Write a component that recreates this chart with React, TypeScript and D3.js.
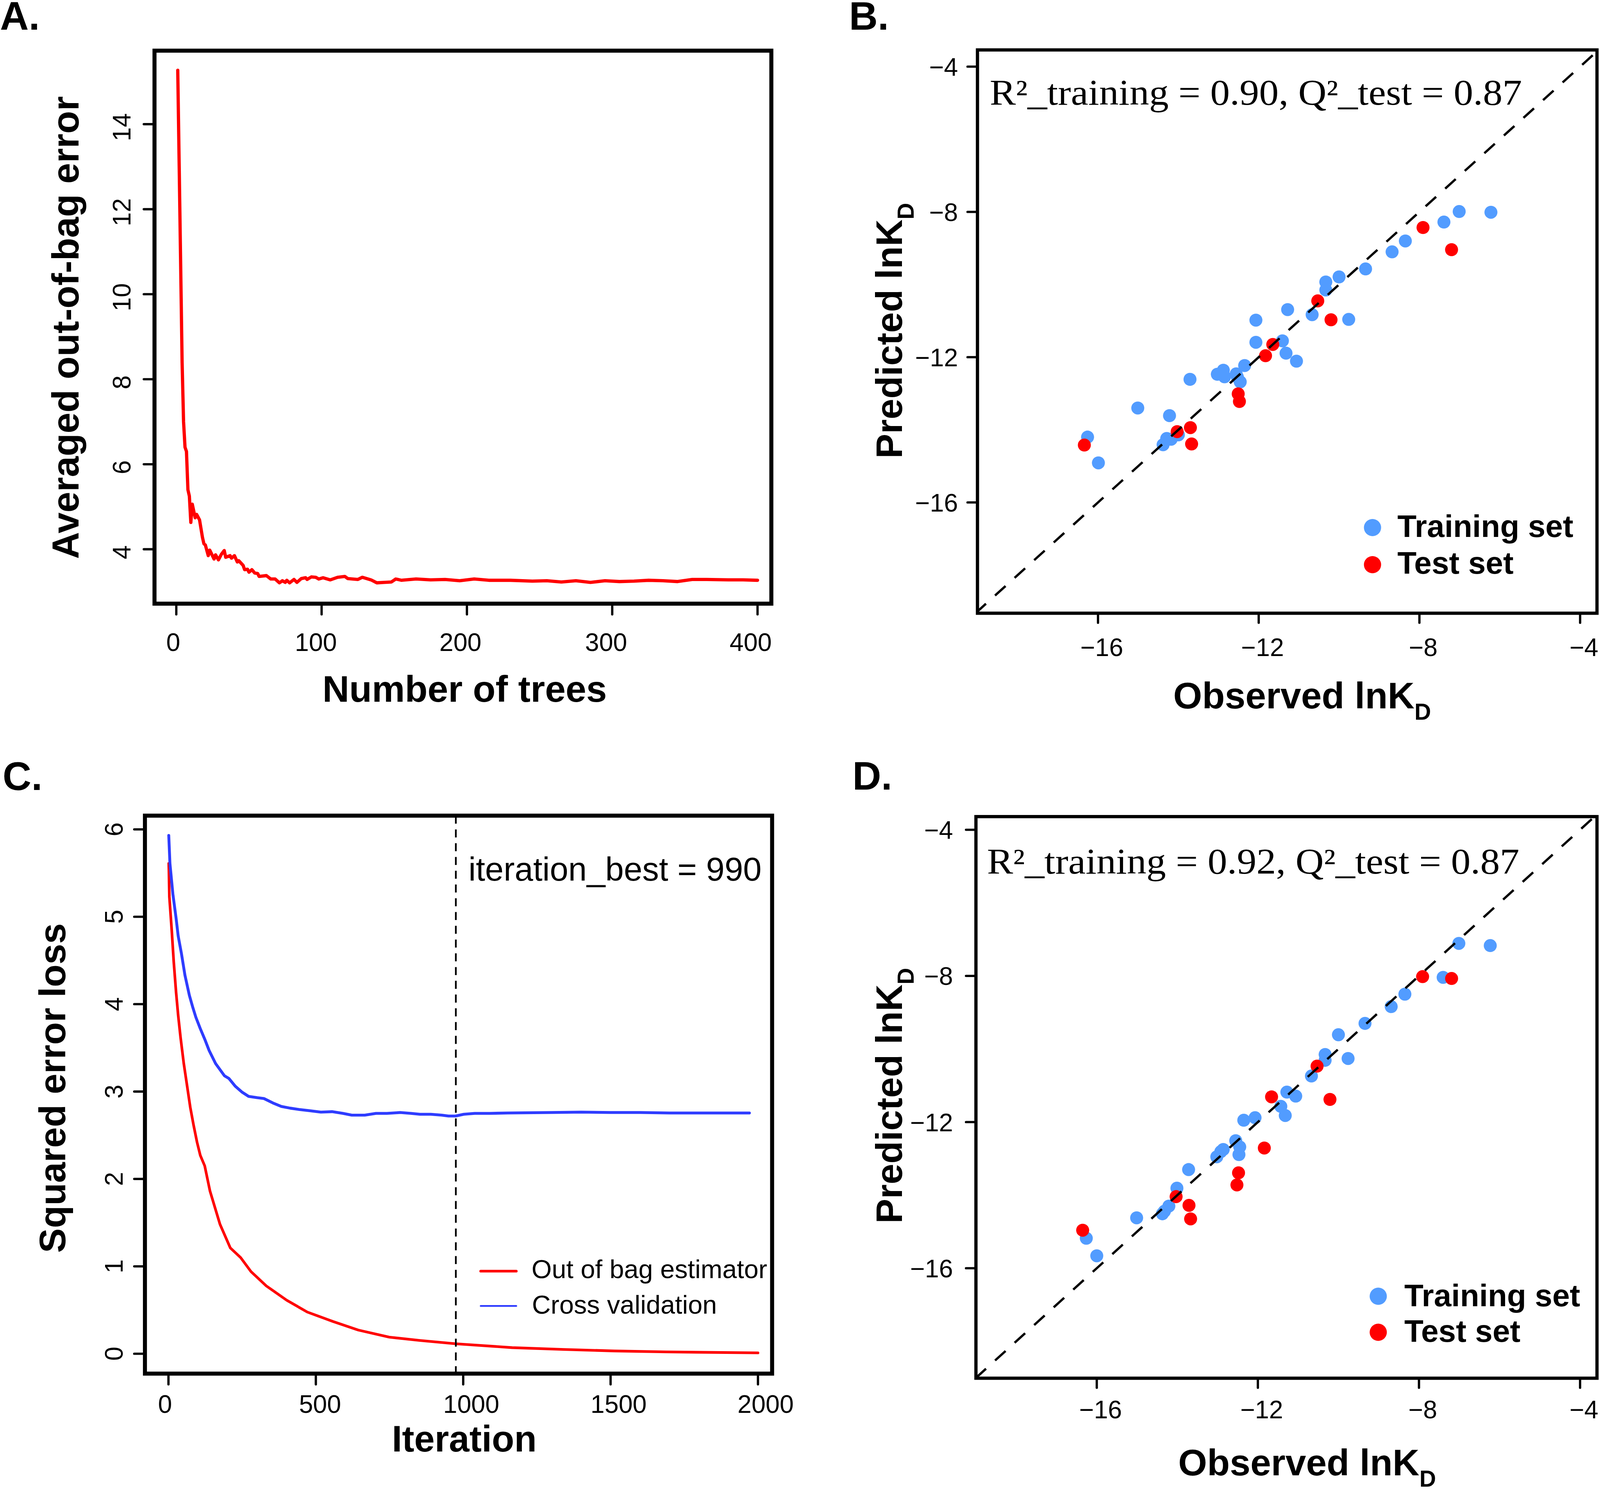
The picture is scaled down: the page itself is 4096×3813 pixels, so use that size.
import React from "react";
import * as d3 from "d3";

const SCALE = 0.979;
const SANS = "'Liberation Sans', Arial, Helvetica, sans-serif";
const SERIF = "'Liberation Serif', 'Times New Roman', serif";
const RED = "#ff0000";
const LIGHTBLUE = "#529cff";
const BLUE = "#2e3cff";

// A. averaged out-of-bag error against number of trees
const oobTrees = [
  1, 2, 3, 4, 5, 6, 7, 8, 9, 10, 11, 13, 14, 16, 18, 19, 20, 22, 23, 26, 27, 29,
  31, 33, 34, 37, 38, 40, 42, 43, 46, 47, 49, 50, 52, 54, 56, 57, 62, 65, 68, 71,
  73, 75, 76, 78, 81, 83, 86, 89, 90, 93, 96, 98, 101, 106, 111, 116, 118, 125,
  128, 134, 138, 143, 148, 151, 155, 165, 175, 185, 195, 205, 215, 230, 245, 255,
  265, 275, 285, 295, 305, 315, 325, 335, 345, 355, 365, 380, 390, 400,
];
const oobError = [
  15.27, 13.0, 10.7, 8.4, 7.0, 6.4, 6.3, 5.4, 5.25, 4.63, 5.06, 4.74, 4.82, 4.69,
  4.28, 4.13, 4.1, 3.85, 3.98, 3.77, 3.87, 3.75, 3.88, 3.97, 3.81, 3.85, 3.79,
  3.85, 3.7, 3.73, 3.62, 3.52, 3.53, 3.46, 3.52, 3.44, 3.43, 3.36, 3.38, 3.3, 3.3,
  3.21, 3.26, 3.22, 3.27, 3.21, 3.29, 3.22, 3.31, 3.33, 3.29, 3.35, 3.34, 3.3,
  3.33, 3.28, 3.34, 3.36, 3.31, 3.29, 3.34, 3.28, 3.21, 3.22, 3.23, 3.3, 3.27,
  3.3, 3.28, 3.29, 3.26, 3.3, 3.27, 3.27, 3.25, 3.26, 3.23, 3.26, 3.22, 3.26,
  3.24, 3.25, 3.27, 3.26, 3.24, 3.29, 3.29, 3.28, 3.28, 3.27,
];

// C. squared error loss against iteration
const oobIter = [
  1, 3, 11, 18, 26, 33, 41, 52, 63, 74, 85, 97, 108, 123, 141, 175, 210, 245, 280,
  332, 401, 471, 558, 644, 749, 853, 975, 1166, 1340, 1513, 1687, 2000,
];
const oobLoss = [
  5.61, 5.23, 4.85, 4.48, 4.13, 3.87, 3.62, 3.32, 3.07, 2.82, 2.62, 2.42, 2.27,
  2.15, 1.86, 1.48, 1.21, 1.1, 0.94, 0.776, 0.613, 0.477, 0.369, 0.271, 0.19,
  0.152, 0.114, 0.07, 0.049, 0.032, 0.021, 0.01,
];
const cvIter = [
  1, 5, 15, 26, 33, 44, 56, 71, 82, 93, 108, 123, 138, 160, 190, 205, 227, 249,
  272, 301, 324, 354, 383, 413, 443, 480, 517, 555, 592, 622, 666, 704, 741, 786,
  823, 853, 890, 927, 950, 974, 1002, 1039, 1090, 1150, 1300, 1400, 1500, 1600,
  1700, 1800, 1900, 1971,
];
const cvLoss = [
  5.93, 5.61, 5.26, 4.98, 4.78, 4.58, 4.33, 4.1, 3.97, 3.85, 3.72, 3.6, 3.47, 3.32,
  3.18, 3.15, 3.06, 2.995, 2.945, 2.93, 2.92, 2.87, 2.83, 2.81, 2.795, 2.78,
  2.765, 2.77, 2.75, 2.73, 2.73, 2.75, 2.75, 2.76, 2.75, 2.74, 2.74, 2.73, 2.72,
  2.72, 2.74, 2.75, 2.75, 2.755, 2.76, 2.765, 2.76, 2.76, 2.755, 2.755, 2.755,
  2.755,
];
const bestIterLine = 975;

// B. observed vs predicted lnKD (first model)
const bTrainObs = [
  -16.26, -15.99, -15.01, -14.22, -14.38, -14.29, -14.18, -14.0, -13.71, -13.03,
  -12.88, -12.85, -12.53, -12.56, -12.46, -12.35, -12.07, -12.07, -11.41, -11.32,
  -11.28, -11.06, -10.67, -10.33, -10.33, -10.0, -9.76, -9.34, -8.68, -8.35,
  -7.39, -7.01, -6.22,
];
const bTrainPred = [
  -14.2, -14.91, -13.4, -13.61, -14.41, -14.24, -14.26, -14.14, -12.61, -12.47,
  -12.36, -12.54, -12.55, -12.46, -12.68, -12.23, -10.98, -11.59, -11.55, -11.89,
  -10.69, -12.11, -10.83, -10.15, -9.93, -9.79, -10.96, -9.57, -9.1, -8.8, -8.28,
  -7.99, -8.01,
];
const bTestObs = [
  -16.34, -14.03, -13.7, -13.67, -12.51, -12.48, -11.83, -11.65, -10.53, -10.2,
  -7.91, -7.2,
];
const bTestPred = [
  -14.42, -14.05, -13.94, -14.39, -13.01, -13.22, -11.96, -11.65, -10.45, -10.97,
  -8.43, -9.04,
];

// D. observed vs predicted lnKD (second model)
const dTrainObs = [
  -16.26, -16.0, -15.01, -14.37, -14.32, -14.21, -14.01, -13.72, -13.02, -12.92,
  -12.86, -12.55, -12.45, -12.47, -12.35, -12.07, -11.43, -11.32, -11.28, -11.06,
  -10.67, -10.33, -10.33, -10.0, -9.76, -9.34, -8.69, -8.35, -7.4, -7.01, -6.23,
];
const dTrainPred = [
  -15.18, -15.66, -14.62, -14.51, -14.44, -14.3, -13.81, -13.3, -12.95, -12.81,
  -12.75, -12.51, -12.68, -12.89, -11.95, -11.88, -11.57, -11.82, -11.18, -11.29,
  -10.74, -10.15, -10.31, -9.61, -10.26, -9.3, -8.84, -8.5, -8.04, -7.11, -7.17,
];
const dTestObs = [
  -16.35, -14.03, -13.71, -13.67, -12.48, -12.52, -11.66, -11.84, -10.53, -10.21,
  -7.91, -7.19,
];
const dTestPred = [
  -14.96, -14.04, -14.28, -14.65, -13.39, -13.72, -11.31, -12.71, -10.47, -11.38,
  -8.02, -8.07,
];

const treeTicks = [0, 100, 200, 300, 400];
const errorTicks = [4, 6, 8, 10, 12, 14];
const iterTicks = [0, 500, 1000, 1500, 2000];
const lossTicks = [0, 1, 2, 3, 4, 5, 6];
const kdTicks = [-16, -12, -8, -4];

const minus = (v: number) => (v < 0 ? "\u2212" + Math.abs(v) : String(v));
const zip = (xs: number[], ys: number[]) => xs.map((x, i) => [x, ys[i]] as [number, number]);

const TICK_W = 6;

function PanelA() {
  const x = d3.scaleLinear().domain([-15, 409.5]).range([404, 2017]);
  const y = d3.scaleLinear().domain([2.72, 15.73]).range([1579, 132.5]);
  const line = d3.line<[number, number]>().x((d) => x(d[0])).y((d) => y(d[1]));
  const labelShift = [-8, -15, -17, -16, -18];
  return (
    <g>
      <text x={0} y={78} fontFamily={SANS} fontWeight="bold" fontSize={104}>A.</text>
      <path d={line(zip(oobTrees, oobError)) || ""} fill="none" stroke={RED}
        strokeWidth={8.5} strokeLinejoin="round" strokeLinecap="round" />
      {treeTicks.map((t, i) => (
        <g key={t}>
          <line x1={x(t)} x2={x(t)} y1={1579} y2={1607} stroke="#000" strokeWidth={TICK_W} strokeLinecap="round" />
          <text x={x(t) + labelShift[i]} y={1703} textAnchor="middle" fontFamily={SANS} fontSize={66}>{t}</text>
        </g>
      ))}
      {errorTicks.map((t) => (
        <g key={t}>
          <line x1={404} x2={376} y1={y(t)} y2={y(t)} stroke="#000" strokeWidth={TICK_W} strokeLinecap="round" />
          <text transform={`translate(341.5,${y(t) + 8}) rotate(-90)`} textAnchor="middle"
            fontFamily={SANS} fontSize={66}>{t}</text>
        </g>
      ))}
      <rect x={404} y={132.5} width={2017 - 404} height={1579 - 132.5} fill="none" stroke="#000" strokeWidth={10.5} />
      <text transform="translate(205,857) rotate(-90)" textAnchor="middle" fontFamily={SANS}
        fontWeight="bold" fontSize={98}>Averaged out-of-bag error</text>
      <text x={1215} y={1836} textAnchor="middle" fontFamily={SANS} fontWeight="bold" fontSize={97}>
        Number of trees
      </text>
    </g>
  );
}

function PanelC() {
  const x = d3.scaleLinear().domain([-79.8, 2048]).range([379, 2019]);
  const y = d3.scaleLinear().domain([-0.2275, 6.157]).range([3593, 2133.5]);
  const line = d3.line<[number, number]>().x((d) => x(d[0])).y((d) => y(d[1]));
  const labelShift = [-9, 11, 21, 21, 20];
  return (
    <g>
      <text x={7} y={2066} fontFamily={SANS} fontWeight="bold" fontSize={104}>C.</text>
      <path d={line(zip(oobIter, oobLoss)) || ""} fill="none" stroke={RED}
        strokeWidth={7} strokeLinejoin="round" strokeLinecap="round" />
      <path d={line(zip(cvIter, cvLoss)) || ""} fill="none" stroke={BLUE}
        strokeWidth={7.5} strokeLinejoin="round" strokeLinecap="round" />
      <line x1={x(bestIterLine)} x2={x(bestIterLine)} y1={2133.5} y2={3593} stroke="#000"
        strokeWidth={4.5} strokeDasharray="21 15" />
      {iterTicks.map((t, i) => (
        <g key={t}>
          <line x1={x(t)} x2={x(t)} y1={3593} y2={3621} stroke="#000" strokeWidth={TICK_W} strokeLinecap="round" />
          <text x={x(t) + labelShift[i]} y={3696} textAnchor="middle" fontFamily={SANS} fontSize={66}>{t}</text>
        </g>
      ))}
      {lossTicks.map((t) => (
        <g key={t}>
          <line x1={379} x2={351} y1={y(t)} y2={y(t)} stroke="#000" strokeWidth={TICK_W} strokeLinecap="round" />
          <text transform={`translate(321,${y(t)}) rotate(-90)`} textAnchor="middle"
            fontFamily={SANS} fontSize={66}>{t}</text>
        </g>
      ))}
      <rect x={379} y={2133.5} width={2019 - 379} height={3593 - 2133.5} fill="none" stroke="#000" strokeWidth={10.5} />
      <text x={1225} y={2303} fontFamily={SANS} fontSize={87}>iteration_best = 990</text>
      <line x1={1257} x2={1350} y1={3325} y2={3325} stroke={RED} strokeWidth={7} strokeLinecap="round" />
      <line x1={1257} x2={1350} y1={3416} y2={3416} stroke={BLUE} strokeWidth={4.5} strokeLinecap="round" />
      <text x={1390} y={3343} fontFamily={SANS} fontSize={68}>Out of bag estimator</text>
      <text x={1391} y={3436} fontFamily={SANS} fontSize={68}>Cross validation</text>
      <text transform="translate(171,2846) rotate(-90)" textAnchor="middle" fontFamily={SANS}
        fontWeight="bold" fontSize={97}>Squared error loss</text>
      <text x={1214} y={3797} textAnchor="middle" fontFamily={SANS} fontWeight="bold" fontSize={96}>Iteration</text>
    </g>
  );
}

interface ScatterProps {
  id: string;
  letter: string;
  letterX: number;
  letterY: number;
  box: [number, number, number, number];
  xDomain: [number, number];
  yDomain: [number, number];
  trainObs: number[];
  trainPred: number[];
  testObs: number[];
  testPred: number[];
  stat: string;
  statX: number;
  statY: number;
  xLabelY: number;
  yLabelX: number;
  yTitleY: number;
  xTitleX: number;
  xTitleY: number;
  legendX: number;
  legendY: [number, number];
  legendTextX: number;
  legendTextY: [number, number];
}

function Scatter(p: ScatterProps) {
  const [x0, y0, x1, y1] = p.box;
  const x = d3.scaleLinear().domain(p.xDomain).range([x0, x1]);
  const y = d3.scaleLinear().domain(p.yDomain).range([y1, y0]);
  const lo = Math.min(p.xDomain[0], p.yDomain[0]);
  const hi = Math.max(p.xDomain[1], p.yDomain[1]);
  return (
    <g>
      <defs>
        <clipPath id={`clip-${p.id}`}>
          <rect x={x0} y={y0} width={x1 - x0} height={y1 - y0} />
        </clipPath>
      </defs>
      <text x={p.letterX} y={p.letterY} fontFamily={SANS} fontWeight="bold" fontSize={104}>{p.letter}</text>
      <g clipPath={`url(#clip-${p.id})`}>
        {p.trainObs.map((v, i) => (
          <circle key={"t" + i} cx={x(v)} cy={y(p.trainPred[i])} r={17} fill={LIGHTBLUE} />
        ))}
        {p.testObs.map((v, i) => (
          <circle key={"s" + i} cx={x(v)} cy={y(p.testPred[i])} r={17} fill={RED} />
        ))}
        <line x1={x(lo)} y1={y(lo)} x2={x(hi)} y2={y(hi)} stroke="#000" strokeWidth={6}
          strokeDasharray="37 32" />
      </g>
      {kdTicks.map((t) => (
        <g key={"x" + t}>
          <line x1={x(t)} x2={x(t)} y1={y1} y2={y1 + 25} stroke="#000" strokeWidth={TICK_W} strokeLinecap="round" />
          <text x={x(t) + 10} y={p.xLabelY} textAnchor="middle" fontFamily={SANS} fontSize={66}>{minus(t)}</text>
        </g>
      ))}
      {kdTicks.map((t) => (
        <g key={"y" + t}>
          <line x1={x0} x2={x0 - 26} y1={y(t)} y2={y(t)} stroke="#000" strokeWidth={TICK_W} strokeLinecap="round" />
          <text x={p.yLabelX} y={y(t)} dy="0.36em" textAnchor="end" fontFamily={SANS} fontSize={66}>{minus(t)}</text>
        </g>
      ))}
      <rect x={x0} y={y0} width={x1 - x0} height={y1 - y0} fill="none" stroke="#000" strokeWidth={8.5} />
      <text x={p.statX} y={p.statY} fontFamily={SERIF} fontSize={96} textLength={1392}
        lengthAdjust="spacingAndGlyphs">{p.stat}</text>
      <circle cx={p.legendX} cy={p.legendY[0]} r={22.5} fill={LIGHTBLUE} />
      <circle cx={p.legendX} cy={p.legendY[1]} r={22.5} fill={RED} />
      <text x={p.legendTextX} y={p.legendTextY[0]} fontFamily={SANS} fontWeight="bold" fontSize={82}>Training set</text>
      <text x={p.legendTextX} y={p.legendTextY[1]} fontFamily={SANS} fontWeight="bold" fontSize={82}>Test set</text>
      <text transform={`translate(2359,${p.yTitleY}) rotate(-90)`} textAnchor="middle" fontFamily={SANS}
        fontWeight="bold" fontSize={97}>
        Predicted lnK<tspan dy={30} fontSize={60}>D</tspan>
      </text>
      <text x={p.xTitleX} y={p.xTitleY} textAnchor="middle" fontFamily={SANS} fontWeight="bold" fontSize={97}>
        Observed lnK<tspan dy={30} fontSize={60}>D</tspan>
      </text>
    </g>
  );
}

export default function App() {
  return (
    <svg width={4096} height={3813} style={{ position: "absolute", left: 0, top: 0, background: "#fff" }}>
      <rect width={4096} height={3813} fill="#fff" />
      <g transform={`scale(${SCALE})`}>
        <PanelA />
        <PanelC />
        <Scatter
          id="b" letter="B." letterX={2220} letterY={78}
          box={[2556, 130.6, 4176, 1604]} xDomain={[-19.0, -3.58]} yDomain={[-19.05, -3.54]}
          trainObs={bTrainObs} trainPred={bTrainPred} testObs={bTestObs} testPred={bTestPred}
          stat={"R\u00b2_training = 0.90, Q\u00b2_test = 0.87"} statX={2588} statY={274}
          xLabelY={1716} yLabelX={2505} yTitleY={865} xTitleX={3405} xTitleY={1853}
          legendX={3589} legendY={[1380, 1477]} legendTextX={3654} legendTextY={[1405, 1501]}
        />
        <Scatter
          id="d" letter="D." letterX={2229} letterY={2065}
          box={[2552, 2136, 4176, 3605]} xDomain={[-19.0, -3.58]} yDomain={[-19.01, -3.64]}
          trainObs={dTrainObs} trainPred={dTrainPred} testObs={dTestObs} testPred={dTestPred}
          stat={"R\u00b2_training = 0.92, Q\u00b2_test = 0.87"} statX={2581} statY={2285}
          xLabelY={3710} yLabelX={2492} yTitleY={2866} xTitleX={3418} xTitleY={3859}
          legendX={3604} legendY={[3390.6, 3484.8]} legendTextX={3672} legendTextY={[3417, 3510]}
        />
      </g>
    </svg>
  );
}
